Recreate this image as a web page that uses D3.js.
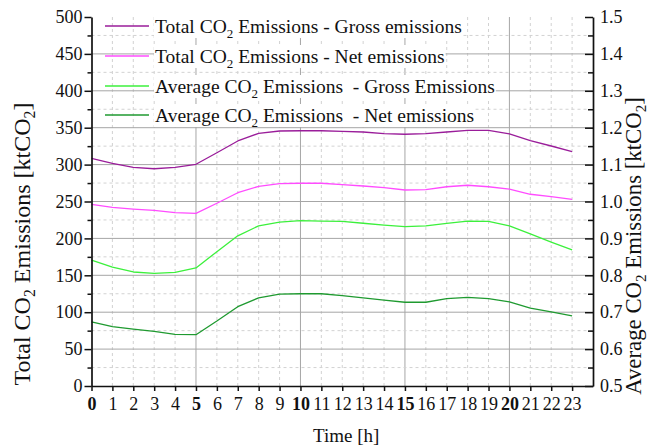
<!DOCTYPE html>
<html>
<head>
<meta charset="utf-8">
<script src="https://cdn.jsdelivr.net/npm/d3@7"></script>
<style>
  body { margin: 0; background: #fff; }
  svg { display: block; }
  text { font-family: "Liberation Serif", "Times New Roman", serif; fill: #111; }
</style>
</head>
<body>
<svg id="chart" width="650" height="446"></svg>
<script>
// Hour of day
const hours = [0, 1, 2, 3, 4, 5, 6, 7, 8, 9, 10, 11, 12, 13, 14, 15, 16, 17, 18, 19, 20, 21, 22, 23];

// Total CO2 emissions [ktCO2] (left axis)
const totalGross = [308.5, 301.8, 296.3, 294.4, 296.3, 300.4, 316.1, 332.0, 342.4, 345.5, 345.9, 345.9,
                    345.1, 344.2, 341.9, 341.1, 341.9, 344.2, 346.5, 346.5, 341.5, 332.4, 325.2, 317.5];
const totalNet   = [246.2, 242.1, 239.8, 238.1, 234.8, 234.0, 247.6, 261.9, 270.6, 274.1, 274.7, 274.7,
                    273.0, 271.0, 268.7, 265.6, 266.0, 270.0, 272.0, 270.0, 266.9, 259.8, 256.5, 253.0];

// Average CO2 emissions [ktCO2] (right axis)
const avgGross = [0.841, 0.822, 0.809, 0.805, 0.808, 0.820, 0.864, 0.907, 0.934, 0.944, 0.948, 0.947,
                  0.946, 0.941, 0.936, 0.932, 0.934, 0.941, 0.947, 0.946, 0.934, 0.912, 0.890, 0.869];
const avgNet   = [0.674, 0.661, 0.654, 0.648, 0.640, 0.639, 0.676, 0.715, 0.739, 0.749, 0.750, 0.750,
                  0.745, 0.739, 0.733, 0.727, 0.727, 0.737, 0.740, 0.737, 0.728, 0.711, 0.701, 0.690];

// Axis ticks
const leftMajorTicks  = [0, 50, 100, 150, 200, 250, 300, 350, 400, 450, 500];
const leftMinorTicks  = [25, 75, 125, 175, 225, 275, 325, 375, 425, 475];
const rightMajorTicks = [0.5, 0.6, 0.7, 0.8, 0.9, 1.0, 1.1, 1.2, 1.3, 1.4, 1.5];
const rightMinorTicks = [0.55, 0.65, 0.75, 0.85, 0.95, 1.05, 1.15, 1.25, 1.35, 1.45];
const boldHours = [0, 5, 10, 15, 20];

// Legend entries: [prefix, suffix] around the subscripted CO2
const legendLabels = [
  ["Total CO", " Emissions - Gross emissions"],
  ["Total CO", " Emissions - Net emissions"],
  ["Average CO", " Emissions  - Gross Emissions"],
  ["Average CO", " Emissions  - Net emissions"]
];
const seriesColors = ["#9a1d9a", "#ff4cff", "#3cf03c", "#1f9a30"];

const svg = d3.select("#chart");
const plot = { left: 91.5, right: 593, top: 17, bottom: 386 };

const x = d3.scaleLinear().domain([0, 24]).range([plot.left, plot.right]);
const yL = d3.scaleLinear().domain([0, 500]).range([plot.bottom, plot.top]);
const yR = d3.scaleLinear().domain([0.5, 1.5]).range([plot.bottom, plot.top]);

// ---- grid ----
const grid = svg.append("g");
hours.filter(h => h > 0).forEach(h => {
  const major = boldHours.includes(h);
  grid.append("line")
    .attr("x1", x(h)).attr("x2", x(h))
    .attr("y1", plot.top).attr("y2", plot.bottom)
    .attr("stroke", major ? "#a6a6a6" : "#d2d2d2")
    .attr("stroke-width", 1)
    .attr("stroke-dasharray", major ? null : "3,3");
});
leftMajorTicks.filter(v => v > 0 && v < 500).forEach(v => {
  grid.append("line")
    .attr("x1", plot.left).attr("x2", plot.right)
    .attr("y1", yL(v)).attr("y2", yL(v))
    .attr("stroke", "#a6a6a6").attr("stroke-width", 1);
});
leftMinorTicks.forEach(v => {
  grid.append("line")
    .attr("x1", plot.left).attr("x2", plot.right)
    .attr("y1", yL(v)).attr("y2", yL(v))
    .attr("stroke", "#d2d2d2").attr("stroke-width", 1)
    .attr("stroke-dasharray", "3,3");
});

// ---- legend ----
const legend = svg.append("g");
const legendRowY = [26, 56, 86, 115];
legendLabels.forEach((lab, i) => {
  const ry = legendRowY[i];
  const t = legend.append("text")
    .attr("x", 155).attr("y", ry + 6.5)
    .style("font-size", "19.5px")
    .style("white-space", "pre");
  t.append("tspan").text(lab[0]);
  t.append("tspan").attr("dy", 5).style("font-size", "13px").text("2");
  t.append("tspan").attr("dy", -5).text(lab[1]);
  const bb = t.node().getBBox();
  legend.insert("rect", "text")
    .attr("x", bb.x - 1).attr("y", ry - 11)
    .attr("width", bb.width + 2).attr("height", 23)
    .attr("fill", "#fff");
  legend.append("line")
    .attr("x1", 105).attr("x2", 149)
    .attr("y1", ry).attr("y2", ry)
    .attr("stroke", seriesColors[i]).attr("stroke-width", 1.4);
});

// ---- data lines ----
const lineL = d3.line().x((d, i) => x(hours[i])).y(d => yL(d));
const lineR = d3.line().x((d, i) => x(hours[i])).y(d => yR(d));
const seriesPaths = [
  lineL(totalGross), lineL(totalNet), lineR(avgGross), lineR(avgNet)
];
seriesPaths.forEach((p, i) => {
  svg.append("path").attr("d", p)
    .attr("fill", "none")
    .attr("stroke", seriesColors[i])
    .attr("stroke-width", 1.3)
    .attr("stroke-linejoin", "round");
});

// ---- axes ----
function styleAxis(g) {
  g.selectAll("path.domain").attr("stroke", "#111").attr("stroke-width", 1.7);
  g.selectAll(".tick line").attr("stroke", "#111").attr("stroke-width", 1.5);
  g.selectAll("text").style("font-size", "18px").attr("fill", "#111")
    .style("font-family", "'Liberation Serif', 'Times New Roman', serif");
}

// left
const axL = svg.append("g").attr("transform", `translate(${plot.left},0)`)
  .call(d3.axisLeft(yL).tickValues(leftMajorTicks).tickSize(7).tickSizeOuter(0).tickPadding(2));
styleAxis(axL);
const axLm = svg.append("g").attr("transform", `translate(${plot.left},0)`)
  .call(d3.axisLeft(yL).tickValues(leftMinorTicks).tickSize(4).tickFormat(""));
styleAxis(axLm);
axLm.select("path.domain").remove();

// right (ticks pointing inward)
const axR = svg.append("g").attr("transform", `translate(${plot.right},0)`)
  .call(d3.axisRight(yR).tickValues(rightMajorTicks).tickSize(-8).tickSizeOuter(0)
        .tickPadding(7).tickFormat(d3.format(".1f")));
styleAxis(axR);
const axRm = svg.append("g").attr("transform", `translate(${plot.right},0)`)
  .call(d3.axisRight(yR).tickValues(rightMinorTicks).tickSize(-5).tickFormat(""));
styleAxis(axRm);
axRm.select("path.domain").remove();

// bottom
const axB = svg.append("g").attr("transform", `translate(0,${plot.bottom})`)
  .call(d3.axisBottom(x).tickValues(hours).tickSize(5).tickSizeOuter(0).tickPadding(6));
styleAxis(axB);
axB.selectAll(".tick text")
  .style("font-weight", d => boldHours.includes(d) ? "bold" : "normal");

// ---- axis titles ----
svg.append("text")
  .attr("x", (plot.left + plot.right) / 2 + 4).attr("y", 442)
  .attr("text-anchor", "middle").style("font-size", "19px")
  .text("Time [h]");

function rotatedTitle(cx, cy, prefix, mid, fontSize) {
  const sub = fontSize * 0.66, shift = fontSize * 0.2;
  const t = svg.append("text")
    .attr("transform", `translate(${cx},${cy}) rotate(-90)`)
    .attr("text-anchor", "middle")
    .style("font-size", fontSize + "px");
  t.append("tspan").text(prefix);
  t.append("tspan").attr("dy", shift).style("font-size", sub + "px").text("2");
  t.append("tspan").attr("dy", -shift).text(mid);
  t.append("tspan").attr("dy", shift).style("font-size", sub + "px").text("2");
  t.append("tspan").attr("dy", -shift).text("]");
}
rotatedTitle(30, 244, "Total CO", " Emissions [ktCO", 24);
rotatedTitle(641, 246, "Average CO", " Emissions [ktCO", 22.8);
</script>
</body>
</html>
